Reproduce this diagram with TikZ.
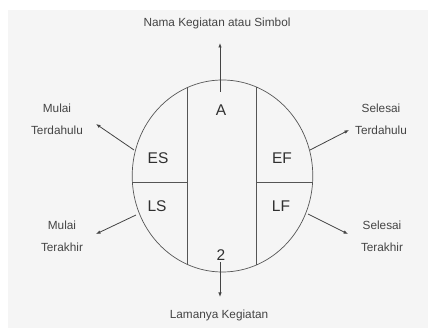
\documentclass[tikz,border=0pt]{standalone}
\usepackage{fontspec}
\setmainfont{Liberation Sans}
\usetikzlibrary{arrows.meta}

\definecolor{bggray}{HTML}{F5F5F5}
\definecolor{linegray}{HTML}{555555}
\definecolor{textgray}{HTML}{444444}

\begin{document}
\begin{tikzpicture}[x=1pt, y=-1pt,
        keterangan/.style={text=textgray, font=\fontsize{11.8}{22}\selectfont, align=center, inner sep=0pt},
        isian/.style={text=textgray!70!black, font=\fontsize{15.5}{18}\selectfont, inner sep=0pt},
        panah/.style={-{Latex[length=4.5pt, width=3.5pt]}, draw=linegray!80!black, line width=0.8pt}]

            \useasboundingbox (0,0) rectangle (428,328);
            \fill[white] (0,0) rectangle (428,328);
            \fill[bggray] (8,10) rectangle (428,328);

            % lingkaran kegiatan
            \draw[linegray, line width=0.7pt] (222.5,176) ellipse (90.3 and 96);
            \begin{scope}
                \clip (222.5,176) ellipse (90.3 and 96);
                \draw[linegray, line width=0.8pt] (187.5,60) -- (187.5,290);
                \draw[linegray, line width=0.8pt] (256,60) -- (256,290);
                \draw[linegray, line width=0.8pt] (120,182) -- (187.5,182);
                \draw[linegray, line width=0.8pt] (256,182) -- (330,182);
            \end{scope}

            \node[isian] (A) at (221,110) {A};
            \node[isian] (durasi) at (221,255) {2};
            \node[isian] (ES) at (158,158) {ES};
            \node[isian] (EF) at (282,158) {EF};
            \node[isian] (LS) at (157,206) {LS};
            \node[isian] (LF) at (281,206) {LF};

            % keterangan
            \node[keterangan] (nama) at (217,23) {Nama Kegiatan atau Simbol};
            \node[keterangan] (lama) at (219,315) {Lamanya Kegiatan};
            \node[keterangan] (mulaiDulu) at (57,119) {Mulai\\Terdahulu};
            \node[keterangan] (mulaiAkhir) at (62,236) {Mulai\\Terakhir};
            \node[keterangan] (selesaiDulu) at (381,119) {Selesai\\Terdahulu};
            \node[keterangan] (selesaiAkhir) at (382,236) {Selesai\\Terakhir};

            \coordinate (namaAwal) at (220,92);
            \coordinate (namaUjung) at (220,43);
            \coordinate (lamaAwal) at (220,262);
            \coordinate (lamaUjung) at (220,297);
            \coordinate (esAwal) at (134,150);
            \coordinate (esUjung) at (96,124);
            \coordinate (lsAwal) at (136,215);
            \coordinate (lsUjung) at (96,234);
            \coordinate (efAwal) at (310,150);
            \coordinate (efUjung) at (349,130);
            \coordinate (lfAwal) at (308,214);
            \coordinate (lfUjung) at (348,234);

            \draw[panah] (namaAwal) -- (namaUjung);
            \draw[panah] (lamaAwal) -- (lamaUjung);
            \draw[panah] (esAwal) -- (esUjung);
            \draw[panah] (lsAwal) -- (lsUjung);
            \draw[panah] (efAwal) -- (efUjung);
            \draw[panah] (lfAwal) -- (lfUjung);
        \end{tikzpicture}
\end{document}
